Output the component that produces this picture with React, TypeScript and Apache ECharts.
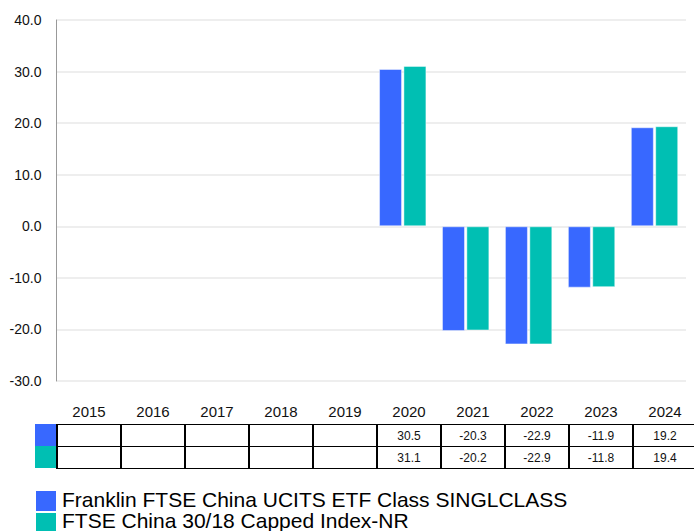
import React, { useEffect, useRef } from "react";
import * as echarts from "echarts";

const categories = ["2015", "2016", "2017", "2018", "2019", "2020", "2021", "2022", "2023", "2024"];
const fundName = "Franklin FTSE China UCITS ETF Class SINGLCLASS";
const indexName = "FTSE China 30/18 Capped Index-NR";
const fundValues: (number | null)[] = [null, null, null, null, null, 30.5, -20.3, -22.9, -11.9, 19.2];
const indexValues: (number | null)[] = [null, null, null, null, null, 31.1, -20.2, -22.9, -11.8, 19.4];
const yTicks = [-30, -20, -10, 0, 10, 20, 30, 40];

const FONT = "'Liberation Sans', Arial, Helvetica, sans-serif";
const BLUE = "#3868FF";
const GREEN = "#00BFB3";

export default function App() {
  const ref = useRef<HTMLDivElement>(null);
  useEffect(() => {
    document.body.style.margin = "0";
    const chart = echarts.init(ref.current!, null, { renderer: "svg" });

    // table layout
    const tLeft = 57;
    const colW = 64;
    const rowTop = 424;
    const rowH = 22;
    const graphics: any[] = [];
    categories.forEach((c, i) => {
      graphics.push({
        type: "text",
        x: tLeft + colW * i + colW / 2,
        y: 411,
        style: { text: c, fill: "#111", font: `15px ${FONT}`, textAlign: "center", textVerticalAlign: "middle" },
      });
    });
    [fundValues, indexValues].forEach((vals, r) => {
      vals.forEach((v, i) => {
        if (v == null) return;
        graphics.push({
          type: "text",
          x: tLeft + colW * i + colW / 2,
          y: rowTop + rowH * r + rowH / 2 + 1,
          style: { text: v.toFixed(1), fill: "#111", font: `12px ${FONT}`, textAlign: "center", textVerticalAlign: "middle" },
        });
      });
    });
    for (let r = 0; r <= 2; r++) {
      graphics.push({
        type: "line",
        shape: { x1: tLeft, y1: rowTop + rowH * r + 0.5, x2: 694, y2: rowTop + rowH * r + 0.5 },
        style: { stroke: "#000", lineWidth: 1 },
      });
    }
    for (let i = 0; i < categories.length; i++) {
      graphics.push({
        type: "line",
        shape: { x1: tLeft + colW * i, y1: rowTop, x2: tLeft + colW * i, y2: rowTop + rowH * 2 + 1 },
        style: { stroke: "#000", lineWidth: 2 },
      });
    }
    graphics.push({ type: "rect", shape: { x: 35, y: rowTop, width: 21, height: rowH }, style: { fill: BLUE } });
    graphics.push({ type: "rect", shape: { x: 35, y: rowTop + rowH, width: 21, height: rowH }, style: { fill: GREEN } });

    // legend
    const legendItems = [
      { name: fundName, color: BLUE },
      { name: indexName, color: GREEN },
    ];
    legendItems.forEach((it, k) => {
      graphics.push({ type: "rect", shape: { x: 36, y: 491 + 22 * k, width: 20, height: 20 }, style: { fill: it.color } });
      graphics.push({
        type: "text",
        x: 62,
        y: 499 + 21 * k,
        style: {
          text: it.name,
          fill: "#000",
          font: `21px ${FONT}`,
          lineHeight: 21,
          textAlign: "left",
          textVerticalAlign: "middle",
        },
      });
    });

    chart.setOption({
      animation: false,
      textStyle: { fontFamily: FONT },
      grid: { left: 56.5, right: 8, top: 20, bottom: 150, containLabel: false },
      xAxis: {
        type: "category",
        data: categories,
        axisLine: { show: false },
        axisTick: { show: false },
        axisLabel: { show: false },
      },
      yAxis: {
        type: "value",
        min: yTicks[0],
        max: yTicks[yTicks.length - 1],
        interval: 10,
        axisLine: { show: true, lineStyle: { color: "#999", width: 1 } },
        axisTick: { show: false },
        axisLabel: { formatter: (v: number) => v.toFixed(1), fontSize: 14, color: "#111", margin: 15, fontFamily: FONT },
        splitLine: { lineStyle: { color: "#eeeeee", width: 2 } },
      },
      series: [
        {
          name: fundName,
          type: "bar",
          data: fundValues,
          barWidth: 23,
          barGap: "6%",
          itemStyle: { color: BLUE, borderColor: "rgba(255,255,255,0.45)", borderWidth: 1 },
        },
        {
          name: indexName,
          type: "bar",
          data: indexValues,
          barWidth: 23,
          barGap: "6%",
          itemStyle: { color: GREEN, borderColor: "rgba(255,255,255,0.45)", borderWidth: 1 },
        },
      ],
      graphic: graphics,
    });
    return () => chart.dispose();
  }, []);
  return <div ref={ref} style={{ width: 694, height: 531 }} />;
}
